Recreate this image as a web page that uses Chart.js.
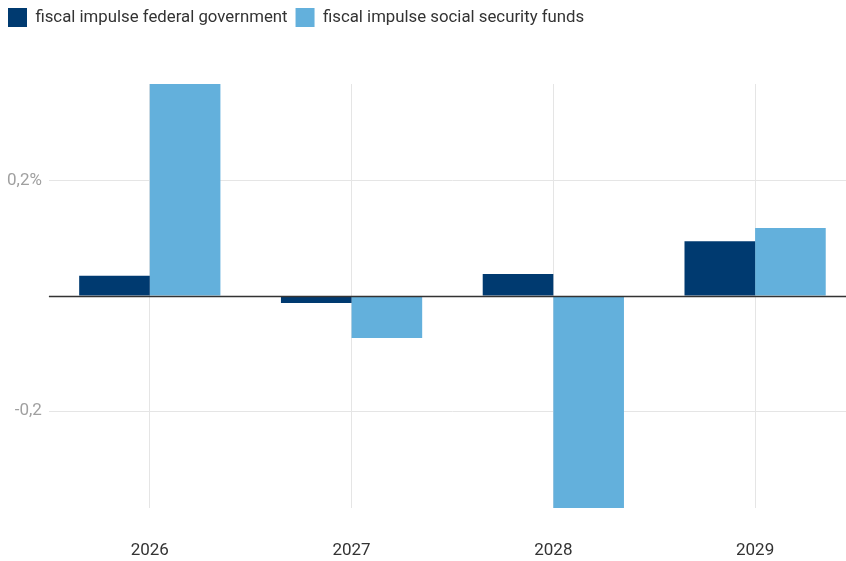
<!DOCTYPE html>
<html>
<head>
<meta charset="utf-8">
<script src="https://cdn.jsdelivr.net/npm/chart.js@4"></script>
<style>
  html, body { margin: 0; padding: 0; background: #fff; overflow: hidden; }
  #wrap { width: 856px; height: 561px; }
</style>
</head>
<body>
<div id="wrap"><canvas id="fiscalChart"></canvas></div>
<script>
const years = ["2026", "2027", "2028", "2029"];
const federalGov = [0.035, -0.012, 0.038, 0.095];
const socialSecurity = [0.37, -0.073, -0.37, 0.118];
const yTicks = [-0.2, 0, 0.2];
const yTickLabels = ["-0,2", "", "0,2%"];

// dark zero line drawn on top of the bars
const zeroLine = {
  id: "zeroLine",
  afterDatasetsDraw(chart) {
    const { ctx, chartArea, scales } = chart;
    const y = Math.round(scales.y.getPixelForValue(0)) + 0.5;
    ctx.save();
    ctx.strokeStyle = "#333333";
    ctx.lineWidth = 1.5;
    ctx.beginPath();
    ctx.moveTo(chartArea.left, y);
    ctx.lineTo(chartArea.right, y);
    ctx.stroke();
    ctx.restore();
  }
};

// extra space under the legend
const legendGap = {
  id: "legendGap",
  beforeInit(chart) {
    const fit = chart.legend.fit;
    chart.legend.fit = function () {
      fit.bind(chart.legend)();
      this.height += 47;
    };
  }
};

Chart.defaults.font.family = "Roboto";

const ctx = document.getElementById("fiscalChart").getContext("2d");
new Chart(ctx, {
  type: "bar",
  data: {
    labels: years,
    datasets: [{
      label: "fiscal impulse federal government",
      data: federalGov,
      backgroundColor: "#003a70"
    }, {
      label: "fiscal impulse social security funds",
      data: socialSecurity,
      backgroundColor: "#63b0dc"
    }]
  },
  options: {
    responsive: true,
    maintainAspectRatio: false,
    animation: false,
    categoryPercentage: 0.7,
    barPercentage: 1.0,
    layout: { padding: { left: 0, right: 0, top: 0, bottom: 0 } },
    plugins: {
      tooltip: { enabled: false },
      legend: {
        position: "top",
        align: "start",
        labels: {
          boxWidth: 19,
          boxHeight: 19,
          padding: 8,
          color: "#333333",
          font: { size: 16.8 }
        }
      }
    },
    scales: {
      x: {
        offset: true,
        afterFit(scale) {
          scale.height = 53;
        },
        grid: { offset: false, color: "#e5e5e5", drawTicks: false },
        border: { display: false },
        ticks: { color: "#333333", font: { size: 17 }, padding: 33 }
      },
      y: {
        min: -0.368,
        max: 0.368,
        afterBuildTicks(scale) {
          scale.ticks = yTicks.map(v => ({ value: v }));
        },
        grid: {
          drawTicks: false,
          color: c => (c.tick && c.tick.value === 0 ? "rgba(0,0,0,0)" : "#e5e5e5")
        },
        border: { display: false },
        ticks: {
          color: "#a0a0a0",
          font: { size: 17 },
          padding: 7,
          callback: v => {
            const i = yTicks.indexOf(v);
            return i >= 0 ? yTickLabels[i] : "";
          }
        }
      }
    }
  },
  plugins: [zeroLine, legendGap]
});
</script>
</body>
</html>
